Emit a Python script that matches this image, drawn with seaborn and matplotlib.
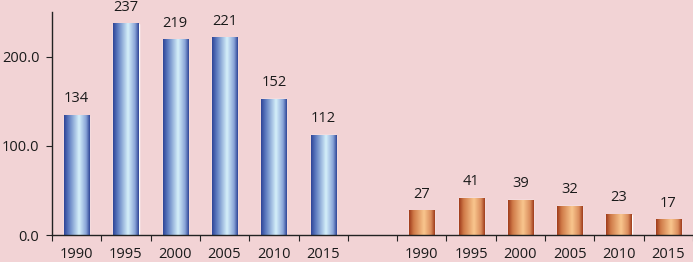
import numpy as np
import pandas as pd
import matplotlib
matplotlib.use("Agg")
import matplotlib.pyplot as plt
from matplotlib.colors import LinearSegmentedColormap
from matplotlib.ticker import FormatStrFormatter
import seaborn as sns

# data
years = ["1990", "1995", "2000", "2005", "2010", "2015"]
left_values = [134, 237, 219, 221, 152, 112]
right_values = [27, 41, 39, 32, 23, 17]

bg = "#F2D3D5"
sns.set_theme(style="white")
plt.rcParams["font.family"] = ["Open Sans", "DejaVu Sans"]

# one slot per bar, with an empty slot between the two groups
slots = [f"A{y}" for y in years] + ["gap"] + [f"B{y}" for y in years]
df = pd.DataFrame({
    "slot": [f"A{y}" for y in years] + [f"B{y}" for y in years],
    "value": left_values + right_values,
    "group": ["left"] * len(years) + ["right"] * len(years),
})

fig = plt.figure(figsize=(6.93, 2.62), dpi=100, facecolor=bg)
ax = fig.add_axes([0.075, 0.103, 0.925, 0.851])
ax.set_facecolor(bg)

sns.barplot(data=df, x="slot", y="value", hue="group", order=slots,
            dodge=False, width=0.51, legend=False, ax=ax,
            palette={"left": "#3B4E9C", "right": "#A8492A"})

# cylinder-like shading on each bar
blue_cmap = LinearSegmentedColormap.from_list(
    "blue", [(0, "#2E4496"), (0.18, "#5D7BC0"), (0.58, "#D5F0FA"), (0.85, "#8AA5D8"), (1, "#2E4496")])
orange_cmap = LinearSegmentedColormap.from_list(
    "orange", [(0, "#9E3A1A"), (0.18, "#CF7A48"), (0.58, "#F9C68E"), (0.85, "#DA8C5C"), (1, "#9E3A1A")])
grad = np.linspace(0, 1, 256).reshape(1, -1)
for bar in ax.patches:
    x, y = bar.get_xy()
    w, h = bar.get_width(), bar.get_height()
    if h <= 0:
        continue
    cmap = blue_cmap if x + w / 2 < 6 else orange_cmap
    ax.imshow(grad, extent=[x, x + w, y, y + h], aspect="auto", cmap=cmap,
              zorder=bar.get_zorder(), interpolation="bilinear")
    bar.set_facecolor("none")

for c in ax.containers:
    ax.bar_label(c, fmt="%d", padding=6.5, fontsize=10.5, color="#1a1a1a")

ax.set_xlim(-0.5, len(slots) - 0.5)
ax.set_ylim(0, 250)
ax.set_xlabel("")
ax.set_ylabel("")

# tick marks between categories, labels at category centres
ax.set_xticks(np.arange(-0.5, len(slots), 1.0))
ax.set_xticklabels([])
ax.set_xticks(np.arange(len(slots)), minor=True)
ax.set_xticklabels(years + [""] + years, minor=True)
ax.tick_params(axis="x", which="major", direction="out", length=4, width=0.8,
               color="#222222", bottom=True)
ax.tick_params(axis="x", which="minor", length=0, pad=8.5, labelsize=10.5,
               labelcolor="#1a1a1a", bottom=True)

ax.set_yticks([0, 100, 200])
ax.yaxis.set_major_formatter(FormatStrFormatter("%.1f"))
ax.tick_params(axis="y", direction="out", length=4, width=0.8, color="#222222",
               pad=5, labelsize=10.5, labelcolor="#1a1a1a", left=True)

for side in ["top", "right"]:
    ax.spines[side].set_visible(False)
for side in ["left", "bottom"]:
    ax.spines[side].set_color("#222222")
    ax.spines[side].set_linewidth(1.0)
ax.spines["left"].set_zorder(5)

fig.savefig("out.png", dpi=100, facecolor=bg)
